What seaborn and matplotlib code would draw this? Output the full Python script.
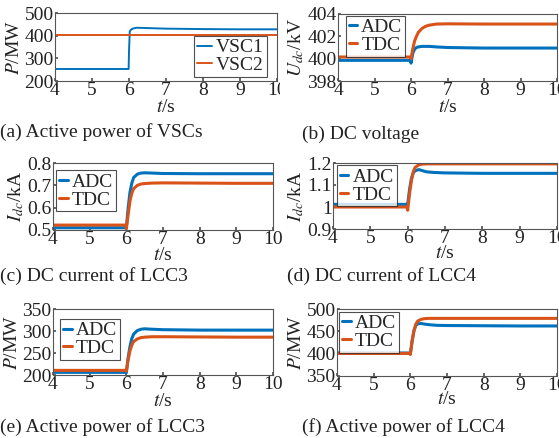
import numpy as np
import pandas as pd
import matplotlib
matplotlib.use('Agg')
import matplotlib.pyplot as plt
from matplotlib.transforms import Bbox
import seaborn as sns

# ============================================================
# Data
# ============================================================

# (a) active power of the VSCs
t_a = [4, 5, 5.99, 6.0, 6.02, 6.05, 6.1, 6.2, 6.4, 7, 8, 9, 10]
vsc1 = [253, 253, 253, 330, 418, 426, 431, 435, 434, 431, 429, 428, 428]
vsc2 = [401, 401, 401, 401, 401, 401, 401, 401, 401, 401, 401, 401, 401]

# common time base for panels (b)-(f)
t = [4, 5, 5.99, 6.0, 6.05, 6.1, 6.15, 6.2, 6.3, 6.4, 6.5, 6.7, 7, 8, 9, 10]

# (b) DC voltage, kV
udc_adc = [399.85, 399.85, 399.85, 399.6, 400.5, 400.85, 401.0, 401.05, 401.1, 401.1, 401.1, 401.05, 401.0, 400.95, 400.95, 400.95]
udc_tdc = [400.15, 400.15, 400.15, 400.0, 400.9, 401.6, 402.0, 402.35, 402.7, 402.9, 403.0, 403.1, 403.12, 403.1, 403.1, 403.1]

# (c) DC current of LCC3, kA
i3_adc = [0.51, 0.51, 0.51, 0.51, 0.60, 0.67, 0.71, 0.735, 0.75, 0.755, 0.756, 0.755, 0.753, 0.752, 0.752, 0.752]
i3_tdc = [0.522, 0.522, 0.522, 0.505, 0.57, 0.63, 0.665, 0.685, 0.70, 0.706, 0.708, 0.71, 0.711, 0.71, 0.709, 0.709]

# (d) DC current of LCC4, kA
i4_adc = [1.012, 1.012, 1.012, 1.01, 1.08, 1.13, 1.155, 1.165, 1.17, 1.165, 1.16, 1.157, 1.155, 1.153, 1.153, 1.153]
i4_tdc = [1.0, 1.0, 1.0, 0.985, 1.06, 1.12, 1.16, 1.18, 1.192, 1.195, 1.196, 1.196, 1.196, 1.196, 1.196, 1.196]

# (e) active power of LCC3, MW
p3_adc = [206, 206, 206, 205, 240, 265, 283, 293, 301, 304, 305, 304, 303, 302, 302, 302]
p3_tdc = [210.5, 210.5, 210.5, 209, 235, 255, 268, 276, 282, 285, 286, 287, 287, 286.5, 286, 286]

# (f) active power of LCC4, MW
p4_adc = [401.5, 401.5, 401.5, 400, 430, 452, 463, 467, 467.5, 466, 465, 463.5, 463, 462.5, 462, 462]
p4_tdc = [400.5, 400.5, 400.5, 398, 428, 452, 466, 473, 477, 478.5, 479, 479, 479, 479, 479, 479]

captions = ['(a) Active power of VSCs', '(b) DC voltage',
            '(c) DC current of LCC3', '(d) DC current of LCC4',
            '(e) Active power of LCC3', '(f) Active power of LCC4']

# ============================================================
# Style
# ============================================================

sns.set_theme(style='ticks')
plt.rcParams['font.family'] = ['Liberation Serif', 'DejaVu Serif']
plt.rcParams['mathtext.fontset'] = 'stix'
plt.rcParams['xtick.direction'] = 'in'
plt.rcParams['ytick.direction'] = 'in'
plt.rcParams['xtick.major.size'] = 2.5
plt.rcParams['ytick.major.size'] = 2.5
plt.rcParams['axes.edgecolor'] = '#555555'
plt.rcParams['axes.linewidth'] = 0.8

FS = 14
blue = '#0072BD'
orange = '#D95319'

W, H = 559, 438
fig = plt.figure(figsize=(W / 100, H / 100), dpi=100)


def add_ax(l, r, top, bot):
    return fig.add_axes([l / W, 1 - bot / H, (r - l) / W, (bot - top) / H])


def make_long(x, a, b, names):
    return pd.DataFrame({'t': list(x) * 2,
                         'v': list(a) + list(b),
                         'case': [names[0]] * len(x) + [names[1]] * len(x)})


panels = [
    # (box in px, data, names, ylim, yticks, ylabel, legend loc, anchor, lw, xlabel centre y px)
    ((55, 277, 13, 81), make_long(t_a, vsc1, vsc2, ['VSC1', 'VSC2']), ['VSC1', 'VSC2'],
     (200, 500), [200, 300, 400, 500], r'$P$/MW', 'lower right', (0.955, 0.06), 1.4, 108),
    ((338, 557, 14, 81), make_long(t, udc_adc, udc_tdc, ['ADC', 'TDC']), ['ADC', 'TDC'],
     (398, 404), [398, 400, 402, 404], r'$U_{dc}$/kV', 'upper left', (0.035, 0.975), 2.2, 108),
    ((53, 273, 163, 230), make_long(t, i3_adc, i3_tdc, ['ADC', 'TDC']), ['ADC', 'TDC'],
     (0.5, 0.8), [0.5, 0.6, 0.7, 0.8], r'$I_{dc}$/kA', 'upper left', (0.014, 0.89), 2.2, 256),
    ((333, 557, 163, 229), make_long(t, i4_adc, i4_tdc, ['ADC', 'TDC']), ['ADC', 'TDC'],
     (0.9, 1.2), [0.9, 1.0, 1.1, 1.2], r'$I_{dc}$/kA', 'upper left', (0.017, 0.963), 2.2, 254),
    ((53, 273, 309, 375), make_long(t, p3_adc, p3_tdc, ['ADC', 'TDC']), ['ADC', 'TDC'],
     (200, 350), [200, 250, 300, 350], r'$P$/MW', 'upper left', (0.032, 0.85), 2.2, 402),
    ((337, 557, 309, 376), make_long(t, p4_adc, p4_tdc, ['ADC', 'TDC']), ['ADC', 'TDC'],
     (350, 500), [350, 400, 450, 500], r'$P$/MW', 'upper left', (0.01, 0.96), 2.2, 400),
]

ytick_fmt = [str, str, lambda v: f'{v:.1f}', lambda v: f'{v:g}', str, str]

axes = []
for i, (box, df, names, ylim, yticks, ylabel, loc, anchor, lw, xl_y) in enumerate(panels):
    ax = add_ax(*box)
    axes.append(ax)
    sns.lineplot(data=df, x='t', y='v', hue='case', palette=[blue, orange],
                 estimator=None, sort=False, linewidth=lw, ax=ax, legend=False)
    ax.set_xlim(4, 10)
    ax.set_ylim(*ylim)
    ax.set_xticks([4, 5, 6, 7, 8, 9, 10])
    ax.set_yticks(yticks)
    ax.set_yticklabels([ytick_fmt[i](v) for v in yticks])
    ax.tick_params(labelsize=FS, pad=1, colors='#555555', labelcolor='#222222')
    ax.set_xlabel(r'$t$/s', fontsize=FS, color='#222222', va='center')
    ax.xaxis.set_label_coords(0.5, -(xl_y - box[3]) / (box[3] - box[2]))
    ax.set_ylabel(ylabel, fontsize=FS, labelpad=1, color='#222222')
    hl = 0.8 if i == 0 else 0.45
    handles = [plt.Line2D([], [], color=c, lw=lw) for c in (blue, orange)]
    leg = ax.legend(handles, names, loc=loc, bbox_to_anchor=anchor, fontsize=FS,
                    frameon=True, fancybox=False, edgecolor='#222222',
                    borderpad=0.15, labelspacing=0.0, handlelength=hl,
                    handletextpad=0.2, borderaxespad=0.0)
    leg.get_frame().set_linewidth(0.8)

# the "10" of panel (a) is cut at the panel edge in the original
clip = Bbox.from_extents(0, 0, 280, H)
for lbl in axes[0].get_xticklabels():
    lbl.set_clip_box(clip)
    lbl.set_clip_on(True)

# captions under each panel
cap_pos = [(0, 132), (302, 134), (0, 276), (287, 276), (0, 427), (302, 427)]
for text, (x, y) in zip(captions, cap_pos):
    fig.text(x / W, 1 - y / H, text, fontsize=FS, ha='left', va='center', color='#222222')

plt.savefig('out.png', dpi=100)
